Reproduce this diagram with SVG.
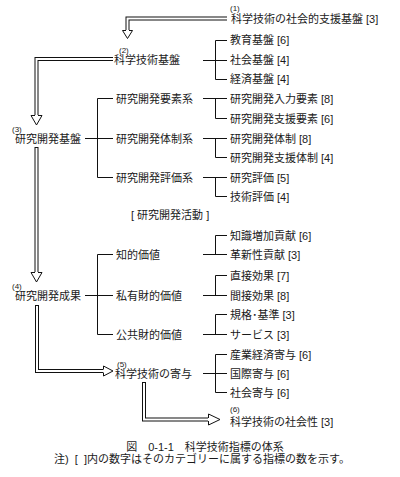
<svg xmlns="http://www.w3.org/2000/svg" width="400" height="477" viewBox="0 0 400 477">
<style>
text{font-family:"Liberation Sans","Noto Sans CJK JP",sans-serif;font-size:11px;fill:#1a1a1a}
.n{font-size:8px}
.c{fill:none;stroke:#111;stroke-width:1}
.so{fill:none;stroke:#111;stroke-width:4}
.si{fill:none;stroke:#fff;stroke-width:2}
.ah{fill:#fff;stroke:#111;stroke-width:1;stroke-linejoin:miter}
</style>
<rect width="400" height="477" fill="#fff"/>
<g id="connectors">
<path class="so" d="M227,18.5 H127.5 V30"/>
<path class="si" d="M228,18.5 H127.5 V31"/>
<polyline class="ah" points="126,30.5 122.5,30.5 127.5,38.5 132.5,30.5 129,30.5"/>
<path class="so" d="M113,59 H36.5 V115"/>
<path class="si" d="M114,59 H36.5 V116"/>
<polyline class="ah" points="35,115.5 31,115.5 36.5,125 42,115.5 38,115.5"/>
<path class="so" d="M36.5,147 V272"/>
<path class="si" d="M36.5,148 V273"/>
<polyline class="ah" points="35,272.5 31,272.5 36.5,282 42,272.5 38,272.5"/>
<path class="so" d="M37,305 V371 H103"/>
<path class="si" d="M37,306 V371 H104"/>
<polyline class="ah" points="103.5,369.5 103.5,366 113,371 103.5,376 103.5,372.5"/>
<path class="so" d="M144,382 V419.5 H208"/>
<path class="si" d="M144,383 V419.5 H209"/>
<polyline class="ah" points="208.5,418 208.5,414 220,419.5 208.5,425 208.5,421"/>
<path class="c" d="M203,60.5 H227 M215.5,40.5 V79.5 M215.5,40.5 H227 M215.5,79.5 H227"/>
<path class="c" d="M85,138.5 H113 M97.5,98.5 V177.5 M97.5,98.5 H113 M97.5,177.5 H113"/>
<path class="c" d="M203,98.5 H227 M215.5,98.5 V118.5 H227"/>
<path class="c" d="M203,138.5 H227 M215.5,138.5 V157.5 H227"/>
<path class="c" d="M203,177.5 H227 M215.5,177.5 V196.5 H227"/>
<path class="c" d="M85,295.5 H113 M97.5,254.5 V334.5 M97.5,254.5 H113 M97.5,334.5 H113"/>
<path class="c" d="M203,254.5 H227 M215.5,254.5 V235.5 H227"/>
<path class="c" d="M203,295.5 H227 M215.5,295.5 V275.5 H227"/>
<path class="c" d="M203,334.5 H227 M215.5,334.5 V314.5 H227"/>
<path class="c" d="M203,373.5 H227 M215.5,354.5 V392.5 M215.5,354.5 H227 M215.5,392.5 H227"/>
</g>
<g id="n1"><text class="n" x="230" y="11">(1)</text><text x="231" y="23">科学技術の社会的支援基盤 [3]</text></g>
<g id="n2"><text class="n" x="119" y="53">(2)</text><text x="114" y="64">科学技術基盤</text></g>
<g id="n2a"><text x="230" y="44">教育基盤 [6]</text></g>
<g id="n2b"><text x="230" y="64">社会基盤 [4]</text></g>
<g id="n2c"><text x="230" y="83">経済基盤 [4]</text></g>
<g id="n3"><text class="n" x="12" y="132">(3)</text><text x="15" y="142.5">研究開発基盤</text></g>
<g id="n3a"><text x="116" y="102.5">研究開発要素系</text></g>
<g id="n3b"><text x="116" y="142.5">研究開発体制系</text></g>
<g id="n3c"><text x="116" y="181.5">研究開発評価系</text></g>
<g id="n3a1"><text x="230" y="102.5">研究開発入力要素 [8]</text></g>
<g id="n3a2"><text x="230" y="122.5">研究開発支援要素 [6]</text></g>
<g id="n3b1"><text x="230" y="142.5">研究開発体制 [8]</text></g>
<g id="n3b2"><text x="230" y="161.5">研究開発支援体制 [4]</text></g>
<g id="n3c1"><text x="230" y="181.5">研究評価 [5]</text></g>
<g id="n3c2"><text x="230" y="200.5">技術評価 [4]</text></g>
<g id="label"><text x="131" y="219">[ 研究開発活動 ]</text></g>
<g id="n4"><text class="n" x="12" y="289">(4)</text><text x="15" y="299.5">研究開発成果</text></g>
<g id="n4a"><text x="116" y="258.5">知的価値</text></g>
<g id="n4b"><text x="116" y="299.5">私有財的価値</text></g>
<g id="n4c"><text x="116" y="338.5">公共財的価値</text></g>
<g id="n4a1"><text x="230" y="239.5">知識増加貢献 [6]</text></g>
<g id="n4a2"><text x="230" y="258.5">革新性貢献 [3]</text></g>
<g id="n4b1"><text x="230" y="279.5">直接効果 [7]</text></g>
<g id="n4b2"><text x="230" y="299.5">間接効果 [8]</text></g>
<g id="n4c1"><text x="230" y="318.5">規格･基準 [3]</text></g>
<g id="n4c2"><text x="230" y="338.5">サービス [3]</text></g>
<g id="n5"><text class="n" x="117" y="367">(5)</text><text x="115" y="377.5">科学技術の寄与</text></g>
<g id="n5a"><text x="230" y="358.5">産業経済寄与 [6]</text></g>
<g id="n5b"><text x="230" y="377.5">国際寄与 [6]</text></g>
<g id="n5c"><text x="230" y="396.5">社会寄与 [6]</text></g>
<g id="n6"><text class="n" x="230" y="412">(6)</text><text x="230" y="425.5">科学技術の社会性 [3]</text></g>
<g id="caption"><text x="205" y="451" text-anchor="middle">図　0-1-1　科学技術指標の体系</text><text x="202" y="463" text-anchor="middle">注)&#160;&#160;[&#160;&#160;]内の数字はそのカテゴリーに属する指標の数を示す。</text></g>
</svg>
